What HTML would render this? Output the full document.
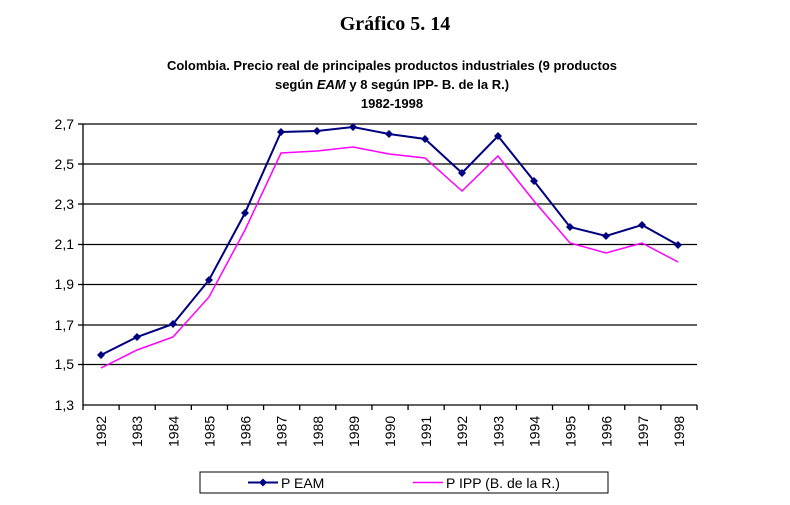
<!DOCTYPE html>
<html><head><meta charset="utf-8"><style>
body{margin:0;background:#fff;}
svg{display:block;}
</style></head><body>
<svg width="790" height="505" xmlns="http://www.w3.org/2000/svg" font-family="Liberation Sans, Arial, sans-serif">
<rect width="790" height="505" fill="#fff"/>
<text x="395" y="30" text-anchor="middle" font-family="Liberation Serif, serif" font-weight="bold" font-size="20">Gráfico 5. 14</text>
<text x="392" y="70" text-anchor="middle" font-weight="bold" font-size="13">Colombia. Precio real de principales productos industriales (9 productos</text>
<text x="392" y="89" text-anchor="middle" font-weight="bold" font-size="13">según <tspan font-style="italic">EAM</tspan> y 8 según IPP- B. de la R.)</text>
<text x="392" y="108" text-anchor="middle" font-weight="bold" font-size="13">1982-1998</text>
<g stroke="#000" stroke-width="1.3">
<line x1="83" y1="124" x2="697" y2="124"/>
<line x1="83" y1="164" x2="697" y2="164"/>
<line x1="83" y1="204" x2="697" y2="204"/>
<line x1="83" y1="244.5" x2="697" y2="244.5"/>
<line x1="83" y1="284.5" x2="697" y2="284.5"/>
<line x1="83" y1="325" x2="697" y2="325"/>
<line x1="83" y1="364.5" x2="697" y2="364.5"/>
<line x1="83" y1="405" x2="697" y2="405"/>
<line x1="83" y1="124" x2="83" y2="405"/>
<line x1="78" y1="124" x2="83" y2="124"/><line x1="78" y1="164" x2="83" y2="164"/><line x1="78" y1="204" x2="83" y2="204"/><line x1="78" y1="244.5" x2="83" y2="244.5"/><line x1="78" y1="284.5" x2="83" y2="284.5"/><line x1="78" y1="325" x2="83" y2="325"/><line x1="78" y1="364.5" x2="83" y2="364.5"/>
</g>
<g stroke="#000" stroke-width="1.3" id="ticks"></g>
<g font-size="14" text-anchor="end">
<text x="74" y="129">2,7</text><text x="74" y="169">2,5</text><text x="74" y="209">2,3</text><text x="74" y="249">2,1</text><text x="74" y="289">1,9</text><text x="74" y="330">1,7</text><text x="74" y="369">1,5</text><text x="74" y="410">1,3</text>
</g>
<g id="xl" font-size="14"></g>
<polyline fill="none" stroke="#ff00ff" stroke-width="1.5" points="101,368 137,350 173,337 209,297 245,230 281,153 317,151 353,147 389,154 425,158 462,191 498,156 534,201 570,243 606,253 642,243 678,262"/>
<polyline id="eam" fill="none" stroke="#000080" stroke-width="2" points="101,355 137,337 173,324 209,280 245,213 281,132 317,131 353,127 389,134 425,139 462,173 498,136 534,181 570,227 606,236 642,225 678,245"/>
<g id="mk" fill="#000080"></g>
<rect x="200" y="472" width="408" height="21" fill="#fff" stroke="#000" stroke-width="1"/>
<line x1="248" y1="482.5" x2="278" y2="482.5" stroke="#000080" stroke-width="2"/>
<path d="M263 478.5 L267 482.5 L263 486.5 L259 482.5Z" fill="#000080"/>
<text x="281" y="488" font-size="14">P EAM</text>
<line x1="413" y1="482.5" x2="443" y2="482.5" stroke="#ff00ff" stroke-width="1.5"/>
<text x="446" y="488" font-size="14">P IPP (B. de la R.)</text>
<script>
var t=document.getElementById('ticks'),xl=document.getElementById('xl'),mk=document.getElementById('mk'),ns='http://www.w3.org/2000/svg';
for(var i=0;i<=17;i++){var x=83+i*614/17;var l=document.createElementNS(ns,'line');l.setAttribute('x1',x);l.setAttribute('x2',x);l.setAttribute('y1',405);l.setAttribute('y2',410);t.appendChild(l);}
for(var i=0;i<17;i++){var x=83+(i+0.5)*614/17+5;var tx=document.createElementNS(ns,'text');tx.setAttribute('transform','translate('+x+',447) rotate(-90)');tx.textContent=1982+i;xl.appendChild(tx);}
document.getElementById('eam').getAttribute('points').split(' ').forEach(function(p){var a=p.split(',');var q=document.createElementNS(ns,'path');var X=+a[0],Y=+a[1];q.setAttribute('d','M'+X+' '+(Y-4)+' L'+(X+4)+' '+Y+' L'+X+' '+(Y+4)+' L'+(X-4)+' '+Y+'Z');mk.appendChild(q);});
</script>
</svg>
</body></html>
